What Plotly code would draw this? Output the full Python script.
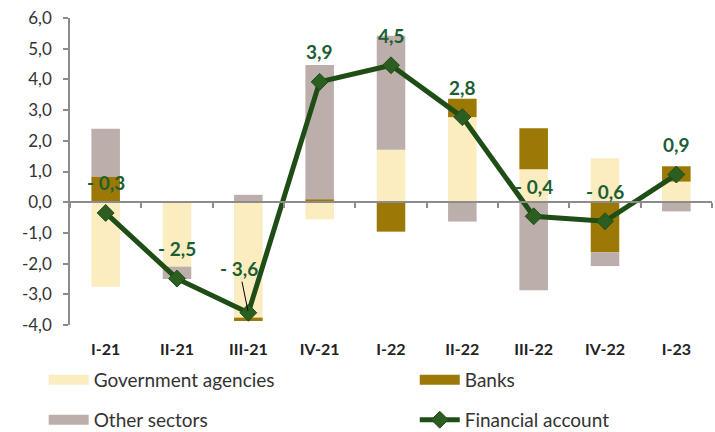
import plotly.graph_objects as go

quarters = ["I-21", "II-21", "III-21", "IV-21", "I-22", "II-22", "III-22", "IV-22", "I-23"]
gov = [-2.75, -2.1, -3.76, -0.56, 1.71, 2.77, 1.07, 1.43, 0.67]
banks = [0.84, 0.0, -0.11, 0.1, -0.96, 0.6, 1.34, -1.63, 0.5]
other = [1.55, -0.4, 0.24, 4.37, 3.71, -0.63, -2.87, -0.45, -0.3]
fin = [-0.35, -2.49, -3.6, 3.92, 4.46, 2.77, -0.46, -0.62, 0.9]
fin_labels = ["- 0,3", "- 2,5", "- 3,6", "3,9", "4,5", "2,8", "- 0,4", "- 0,6", "0,9"]
yticks = [6, 5, 4, 3, 2, 1, 0, -1, -2, -3, -4]
ytick_text = ["6,0", "5,0", "4,0", "3,0", "2,0", "1,0", "0,0", "-1,0", "-2,0", "-3,0", "-4,0"]

C_GOV = "#fcedc0"
C_BANK = "#9c7806"
C_OTHER = "#bcaeaa"
C_LINE = "#1f4d16"
C_MARK = "#2b5e20"
C_LABEL = "#1b5e35"
FONT = "Lato"

fig = go.Figure()
for name, vals, col in [("Government agencies", gov, C_GOV), ("Banks", banks, C_BANK), ("Other sectors", other, C_OTHER)]:
    fig.add_trace(go.Bar(x=quarters, y=vals, name=name, marker=dict(color=col, line=dict(width=0)),
                         showlegend=False, xaxis="x", yaxis="y"))

# legend-only swatches (one legend box per entry, laid out as a 2x2 grid)
for name, col, lg in [("Government agencies", C_GOV, "legend"), ("Banks", C_BANK, "legend2"),
                      ("Other sectors", C_OTHER, "legend3")]:
    fig.add_trace(go.Scatter(x=[None], y=[None], mode="lines", name=name, line=dict(color=col, width=13),
                             legend=lg, showlegend=True))

fig.add_trace(go.Scatter(x=quarters, y=fin, name="Financial account", mode="lines+markers",
                         line=dict(color=C_LINE, width=5),
                         marker=dict(symbol="diamond", size=13, color=C_MARK, line=dict(color=C_LINE, width=1)),
                         xaxis="x2", yaxis="y", legend="legend4"))

for q, v, t in zip(quarters, fin, fin_labels):
    if t == "- 3,6":
        fig.add_annotation(x=q, y=v, xref="x", yref="y", text=t, showarrow=True, arrowhead=0,
                           arrowwidth=1, arrowcolor="black", ax=-9, ay=-44, standoff=2,
                           font=dict(family=FONT, size=19, color=C_LABEL, weight="bold"))
    else:
        fig.add_annotation(x=q, y=v, xref="x", yref="y", text=t, showarrow=False, yshift=30,
                           font=dict(family=FONT, size=19, color=C_LABEL, weight="bold"))

legend_common = dict(orientation="h", xanchor="left", yanchor="middle", itemwidth=40,
                     font=dict(family=FONT, size=19, color="#333333"), bgcolor="rgba(0,0,0,0)")
col1_x, col2_x = -0.041, 0.537
row1_y, row2_y = -0.179, -0.309

fig.update_layout(
    width=715, height=432,
    margin=dict(l=70, r=3, t=18, b=107, autoexpand=False),
    barmode="relative", bargap=0.6,
    plot_bgcolor="white", paper_bgcolor="white",
    font=dict(family=FONT, color="#333333"),
    xaxis=dict(type="category", categoryarray=quarters, range=[-0.5, 8.5], showline=False,
               showgrid=False, zeroline=False, ticks="", ticklabelstandoff=13,
               tickfont=dict(family=FONT, size=16, color="#222222", weight="bold")),
    xaxis2=dict(type="category", categoryarray=quarters, range=[-0.5, 8.5], overlaying="x",
                anchor="free", position=0.4, showline=True, linecolor="#8c8c8c", linewidth=1.5,
                ticks="outside", tickson="boundaries", ticklen=5, tickcolor="#8c8c8c", tickwidth=1.5,
                showticklabels=False, showgrid=False, zeroline=False),
    yaxis=dict(range=[-4, 6], tickvals=yticks, ticktext=ytick_text, showline=True,
               linecolor="#8c8c8c", linewidth=1.5, ticks="outside", ticklen=5, tickcolor="#8c8c8c",
               tickwidth=1.5, showgrid=False, zeroline=False, ticklabelstandoff=8,
               tickfont=dict(family=FONT, size=17, color="#333333"), domain=[0, 1]),
    legend=dict(x=col1_x, y=row1_y, **legend_common),
    legend2=dict(x=col2_x, y=row1_y, **legend_common),
    legend3=dict(x=col1_x, y=row2_y, **legend_common),
    legend4=dict(x=col2_x, y=row2_y, **legend_common),
)

fig.write_html("out.html", config={"displayModeBar": False})

# remove the browser's default page margin so the figure sits at the window's top-left corner
with open("out.html", "r", encoding="utf-8") as f:
    html = f.read()
html = html.replace("<body>", '<body style="margin:0;padding:0;overflow:hidden">', 1)
with open("out.html", "w", encoding="utf-8") as f:
    f.write(html)
